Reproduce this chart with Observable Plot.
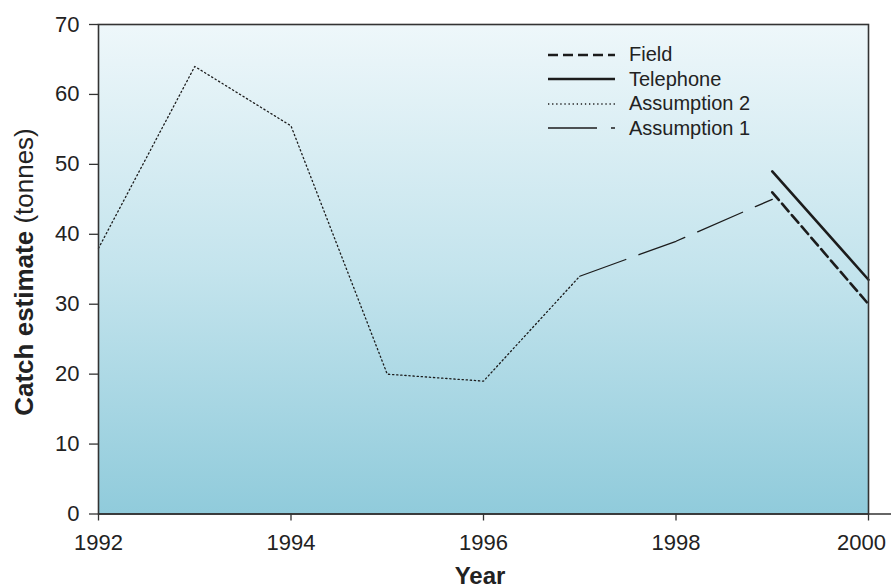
<!DOCTYPE html>
<html>
<head>
<meta charset="utf-8">
<script src="https://cdn.jsdelivr.net/npm/d3@7"></script>
<script src="https://cdn.jsdelivr.net/npm/@observablehq/plot@0.6"></script>
<style>
  body { margin: 0; background: #fff; font-family: "Liberation Sans", Arial, sans-serif; }
  #wrap { position: relative; width: 891px; height: 588px; }
  #legend { position: absolute; left: 548px; top: 42.8px; font-size: 20px; color: #222; }
  #legend .row { display: flex; align-items: center; height: 24.4px; }
  #legend svg { width: 67px; height: 10px; margin-right: 14px; }
</style>
</head>
<body>
<div id="wrap"><div id="legend"></div></div>
<script>
// ---- data ----
const yearsAssumption2 = [1992, 1993, 1994, 1995, 1996, 1997];
const assumption2 = [38, 64, 55.5, 20, 19, 34];
const yearsAssumption1 = [1997, 1998, 1999];
const assumption1 = [34, 39, 45];
const yearsSurvey = [1999, 2000];
const telephone = [49, 33.5];
const field = [46, 30];
const seriesNames = ["Field", "Telephone", "Assumption 2", "Assumption 1"];
const xTicks = [1992, 1994, 1996, 1998, 2000];
const yTicks = [0, 10, 20, 30, 40, 50, 60, 70];

// ---- styles ----
const ink = "#1c1c1c";
const styles = {
  "Field": { strokeWidth: 2.6, dash: "10,5" },
  "Telephone": { strokeWidth: 2.6, dash: null },
  "Assumption 2": { strokeWidth: 1.3, dash: "1.3,2.8" },
  "Assumption 1": { strokeWidth: 1.3, dash: "49,14" }
};

const rows = (xs, ys) => xs.map((x, i) => ({ year: x, value: ys[i] }));

const defs = () => {
  const d = d3.create("svg:defs");
  const g = d.append("linearGradient").attr("id", "bg")
    .attr("x1", 0).attr("y1", 0).attr("x2", 0).attr("y2", 1);
  g.append("stop").attr("offset", "0%").attr("stop-color", "#eef7fa");
  g.append("stop").attr("offset", "50%").attr("stop-color", "#c4e4ed");
  g.append("stop").attr("offset", "100%").attr("stop-color", "#90cbdb");
  return d.node();
};

const lineMark = (name, xs, ys) => Plot.line(rows(xs, ys), {
  x: "year", y: "value", stroke: ink,
  strokeWidth: styles[name].strokeWidth,
  strokeDasharray: styles[name].dash || undefined
});

const lastTick = xTicks[xTicks.length - 1];

const chart = Plot.plot({
  width: 891, height: 588,
  marginTop: 24, marginBottom: 74.5, marginLeft: 98, marginRight: 23,
  style: { fontFamily: "Liberation Sans, Arial, sans-serif", fontSize: "22px", color: "#222", background: "transparent", overflow: "visible" },
  x: { domain: [1992, 2000], label: null },
  y: { domain: [0, 70], label: null },
  marks: [
    defs,
    Plot.frame({ fill: "url(#bg)", stroke: null }),
    lineMark("Assumption 2", yearsAssumption2, assumption2),
    lineMark("Assumption 1", yearsAssumption1, assumption1),
    lineMark("Telephone", yearsSurvey, telephone),
    lineMark("Field", yearsSurvey, field),
    Plot.frame({ stroke: "#333", strokeWidth: 1.6 }),
    Plot.ruleY([0], { x1: 1992, x2: 2000.24, stroke: "#333", strokeWidth: 1.6 }),
    Plot.axisX({ ticks: xTicks, tickFormat: d => d === lastTick ? "" : String(d), tickSize: 7, tickPadding: 13, stroke: "#333", strokeWidth: 1.3, label: null }),
    Plot.axisX({ ticks: [lastTick], tickFormat: d => String(d), tickSize: 0, tickPadding: 20, dx: -7, label: null }),
    Plot.axisY({ ticks: yTicks, tickSize: 9, tickPadding: 10, stroke: "#333", strokeWidth: 1.3, label: null })
  ]
});

const svg = d3.select(chart);
const yl = svg.append("text")
  .attr("transform", "translate(33,272) rotate(-90)")
  .attr("text-anchor", "middle")
  .attr("fill", "#222")
  .style("font-size", "26px")
  .style("font-family", "Liberation Sans, Arial, sans-serif");
yl.append("tspan").attr("font-weight", "bold").text("Catch estimate");
yl.append("tspan").text(" (tonnes)");

svg.append("text")
  .attr("x", 480).attr("y", 584)
  .attr("text-anchor", "middle")
  .attr("fill", "#222")
  .attr("font-weight", "bold")
  .style("font-size", "24px")
  .style("font-family", "Liberation Sans, Arial, sans-serif")
  .text("Year");

document.getElementById("wrap").prepend(chart);

// ---- legend ----
const legend = d3.select("#legend");
for (const name of seriesNames) {
  const row = legend.append("div").attr("class", "row");
  const s = row.append("svg").attr("viewBox", "0 0 67 10");
  s.append("line").attr("x1", 0).attr("x2", 67).attr("y1", 5).attr("y2", 5)
    .attr("stroke", ink)
    .attr("stroke-width", styles[name].strokeWidth)
    .attr("stroke-dasharray", styles[name].dash);
  row.append("span").text(name);
}
</script>
</body>
</html>
